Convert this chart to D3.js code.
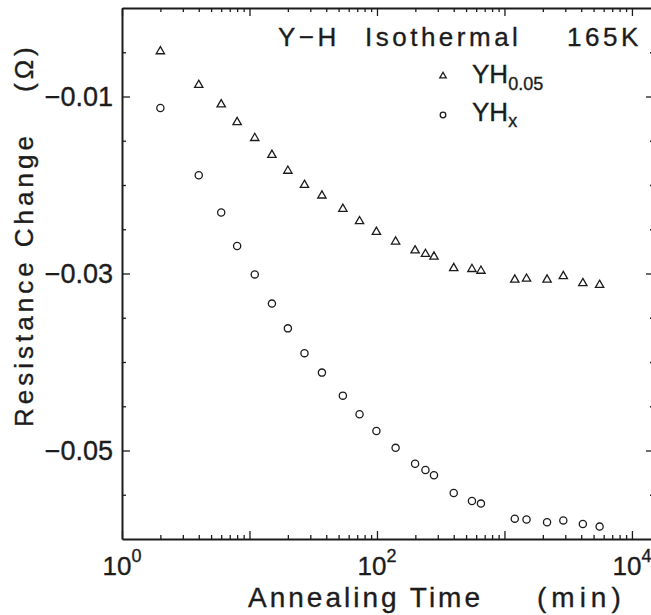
<!DOCTYPE html>
<html>
<head>
<meta charset="utf-8">
<script src="https://cdn.jsdelivr.net/npm/d3@7"></script>
<style>
  body { margin: 0; background: #fff; }
  svg { display: block; font-family: "Liberation Sans", Arial, sans-serif; }
  svg text { stroke: #1c1c1c; stroke-width: 0.35px; }
</style>
</head>
<body>
<div id="graph"></div>
<script>
// annealing times (min), shared by both series
const times = [2, 4, 6, 8, 11, 15, 20, 27, 37, 54, 73, 99, 140, 199, 240, 280, 400, 556, 654, 1205, 1490, 2158, 2895, 4120, 5575];
// resistance change (ohm)
const yh005 = [-0.0049, -0.0087, -0.0109, -0.0129, -0.0147, -0.0166, -0.0184, -0.0200, -0.0212, -0.0227, -0.0241, -0.0253, -0.0264, -0.0274, -0.0278, -0.0281, -0.0294, -0.0295, -0.0297, -0.0307, -0.0306, -0.0307, -0.0303, -0.0311, -0.0313];
const yhx = [-0.0113, -0.0189, -0.0231, -0.0269, -0.0301, -0.0334, -0.0362, -0.0390, -0.0412, -0.0438, -0.0459, -0.0478, -0.0497, -0.0515, -0.0522, -0.0528, -0.0548, -0.0557, -0.0560, -0.0577, -0.0578, -0.0581, -0.0579, -0.0583, -0.0586];
// tick labels
const xLabelExps = [0, 2, 4];
const yLabels = [-0.01, -0.03, -0.05];

// right frame sits just past the edge of the picture, like the scan
var margin = { top: 8, right: -3, bottom: 76, left: 122 },
    W = 651, H = 615;

var svg = d3.select('#graph').append('svg').attr('width', W).attr('height', H);

var x = d3.scaleLog().domain([1, Math.pow(10, 4.173)]).range([margin.left, W - margin.right]);
var y = d3.scaleLinear().domain([-0.06, 0]).range([H - margin.bottom, margin.top]);

var ink = '#1c1c1c';

// ---- axes (all ticks point inward) ----
var xMajor = [1, 10, 100, 1000, 10000];
var xMinor = [];
[1, 10, 100, 1000].forEach(function(d) { for (var k = 2; k <= 9; k++) xMinor.push(d * k); });
var yMinor = d3.range(-0.055, 0, 0.005).map(function(v) { return +v.toFixed(3); })
    .filter(function(v) { return yLabels.indexOf(v) < 0; });

function frame(axisFn, pos, major, minor, scale) {
    var g = svg.append('g').attr('transform', pos);
    g.call(axisFn(scale).tickValues(major).tickSize(-8).tickSizeOuter(0).tickFormat(''));
    var g2 = svg.append('g').attr('transform', pos);
    g2.call(axisFn(scale).tickValues(minor).tickSize(-4).tickSizeOuter(0).tickFormat(''));
    g2.select('.domain').remove();
    [g, g2].forEach(function(s) {
        s.selectAll('line').attr('stroke', ink).attr('stroke-width', 1.3);
        s.select('.domain').attr('stroke', ink).attr('stroke-width', 2);
    });
}
frame(d3.axisBottom, 'translate(0,' + y.range()[0] + ')', xMajor, xMinor, x);
frame(d3.axisTop, 'translate(0,' + y.range()[1] + ')', xMajor, xMinor, x);
frame(d3.axisLeft, 'translate(' + x.range()[0] + ',0)', yLabels, yMinor, y);
frame(d3.axisRight, 'translate(' + x.range()[1] + ',0)', yLabels, yMinor, y);

// x tick labels 10^n
xLabelExps.forEach(function(e) {
    var t = svg.append('text')
        .attr('x', x(Math.pow(10, e))).attr('y', y.range()[0] + 36)
        .attr('text-anchor', 'middle').attr('font-size', 26).attr('fill', ink);
    t.append('tspan').text('10');
    t.append('tspan').attr('dy', -13).attr('font-size', 18).text(e);
});

// y tick labels
yLabels.forEach(function(v) {
    svg.append('text')
        .attr('x', x.range()[0] - 9).attr('y', y(v) + 9)
        .attr('text-anchor', 'end').attr('font-size', 27).attr('fill', ink)
        .text(d3.format('.2f')(v));
});

// axis titles
var xt = svg.append('text').attr('y', 607).attr('font-size', 28).attr('fill', ink);
xt.append('tspan').attr('x', 248).attr('letter-spacing', 3).text('Annealing Time');
xt.append('tspan').attr('x', 537).attr('letter-spacing', 5).text('(min)');

var yt = svg.append('g');
yt.append('text').attr('transform', 'translate(33,427) rotate(-90)')
    .attr('font-size', 26).attr('letter-spacing', 4).attr('fill', ink).text('Resistance Change');
yt.append('text').attr('transform', 'translate(33,92) rotate(-90)')
    .attr('font-size', 26).attr('letter-spacing', 4).attr('fill', ink).text('(Ω)');

// title
var tt = svg.append('text').attr('y', 46).attr('font-size', 26).attr('letter-spacing', 3.5).attr('fill', ink);
tt.append('tspan').attr('x', 278).text('Y−H');
tt.append('tspan').attr('x', 365).text('Isothermal');
tt.append('tspan').attr('x', 567).text('165K');

// ---- data ----
var tri = d3.symbol().type(d3.symbolTriangle).size(30);
svg.append('g').selectAll('path')
    .data(times.map(function(t, i) { return [t, yh005[i]]; }))
    .enter().append('path')
    .attr('d', tri)
    .attr('transform', function(d) { return 'translate(' + x(d[0]) + ',' + y(d[1]) + ')'; })
    .attr('fill', 'none').attr('stroke', ink).attr('stroke-width', 1.3);

svg.append('g').selectAll('circle')
    .data(times.map(function(t, i) { return [t, yhx[i]]; }))
    .enter().append('circle')
    .attr('cx', function(d) { return x(d[0]); })
    .attr('cy', function(d) { return y(d[1]); })
    .attr('r', 3.6)
    .attr('fill', 'none').attr('stroke', ink).attr('stroke-width', 1.3);

// ---- legend ----
var lg = svg.append('g');
lg.append('path').attr('d', d3.symbol().type(d3.symbolTriangle).size(18))
    .attr('transform', 'translate(443,76)')
    .attr('fill', 'none').attr('stroke', ink).attr('stroke-width', 1.3);
lg.append('circle').attr('cx', 443).attr('cy', 115).attr('r', 2.8)
    .attr('fill', 'none').attr('stroke', ink).attr('stroke-width', 1.3);
var l1 = lg.append('text').attr('x', 472).attr('y', 83).attr('font-size', 26).attr('fill', ink);
l1.append('tspan').text('YH');
l1.append('tspan').attr('dy', 7).attr('font-size', 18).text('0.05');
var l2 = lg.append('text').attr('x', 472).attr('y', 121).attr('font-size', 26).attr('fill', ink);
l2.append('tspan').text('YH');
l2.append('tspan').attr('dy', 6).attr('font-size', 18).text('x');
</script>
</body>
</html>
